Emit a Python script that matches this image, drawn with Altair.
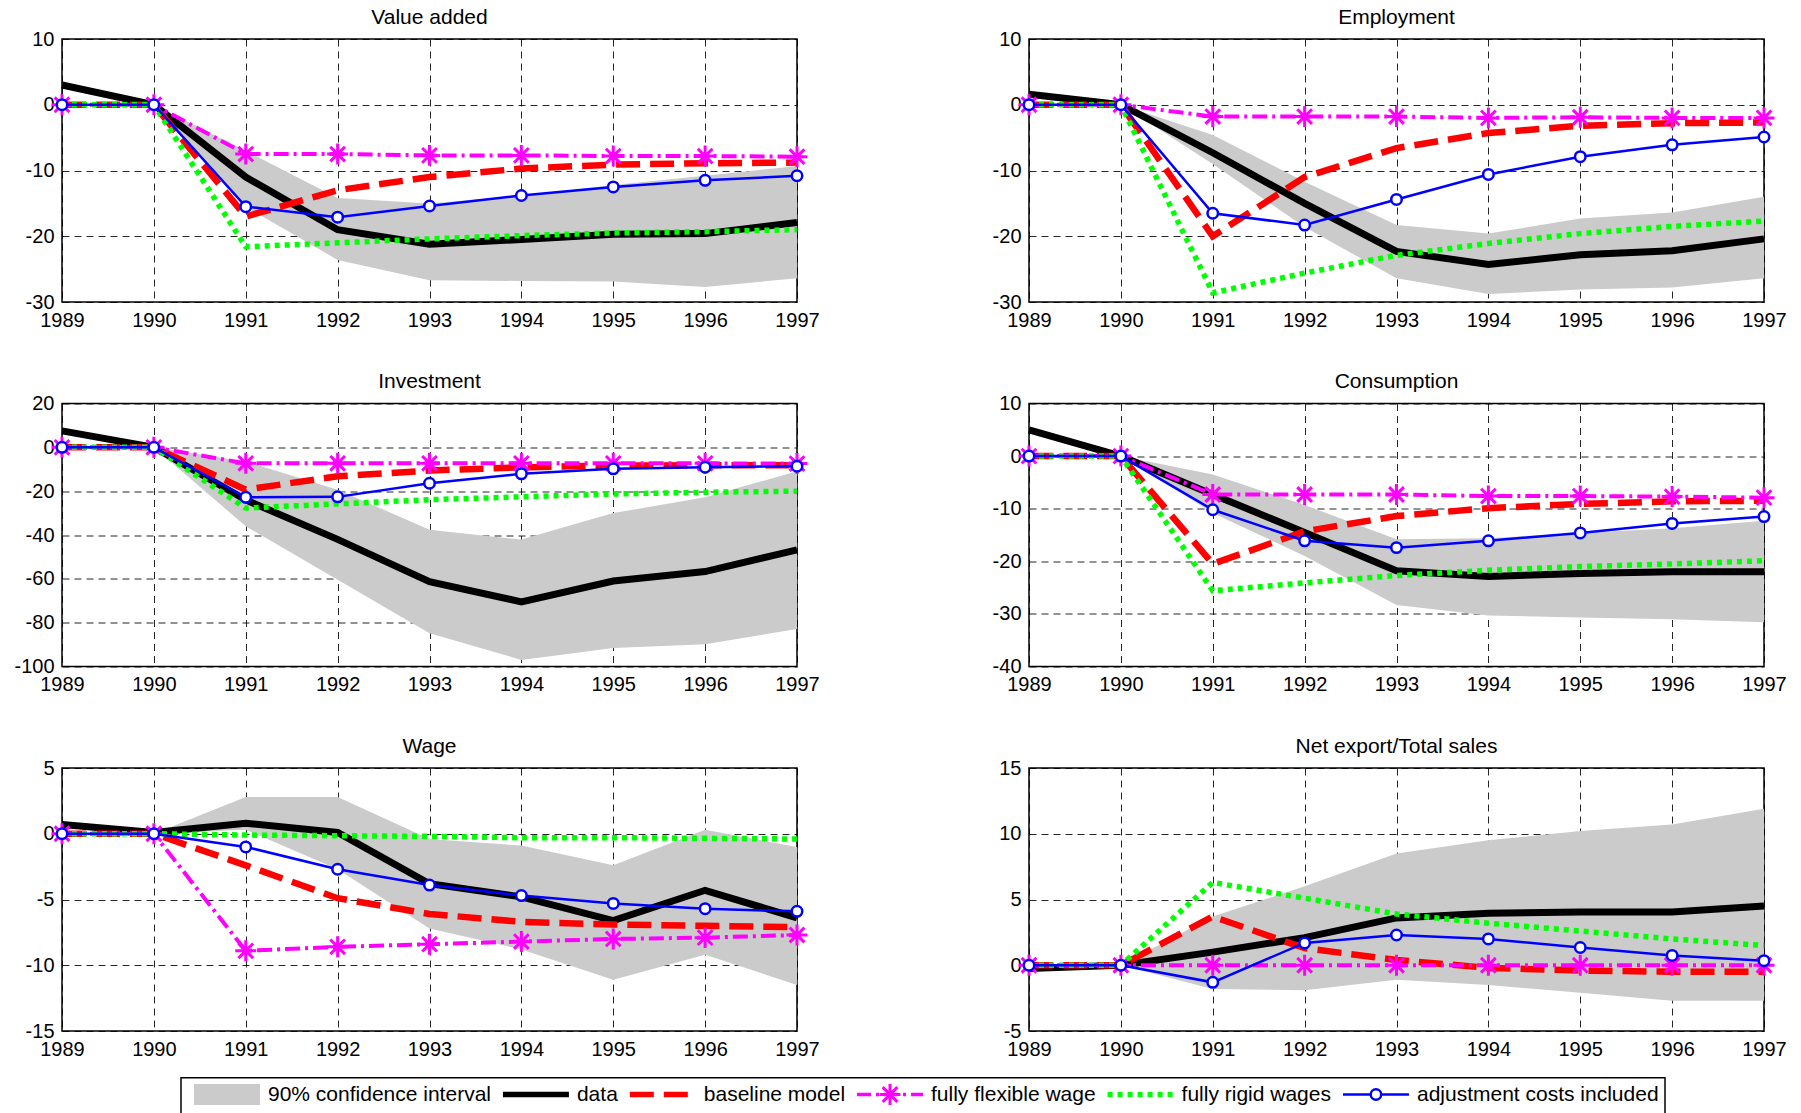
import altair as alt
import pandas as pd

FONT = "Liberation Sans"
GREY = "#cbcbcb"

YEARS = [1989, 1990, 1991, 1992, 1993, 1994, 1995, 1996, 1997]
CI_YEARS = [1990, 1991, 1992, 1993, 1994, 1995, 1996, 1997]

# ---- Value added
VA_TICKS = [-30, -20, -10, 0, 10]
VA_DATA = [3.0, 0.0, -11.0, -19.0, -21.2, -20.5, -19.7, -19.6, -17.9]
VA_BASE = [0, 0, -17.0, -13.0, -11.0, -9.7, -9.1, -8.9, -8.8]
VA_FLEX = [0, 0, -7.5, -7.5, -7.7, -7.7, -7.8, -7.8, -7.9]
VA_RIGID = [0, 0, -21.6, -21.0, -20.4, -19.9, -19.5, -19.3, -19.0]
VA_ADJ = [0, 0, -15.5, -17.1, -15.4, -13.8, -12.5, -11.5, -10.8]
VA_CI_HI = [0, -7.0, -14.2, -15.0, -13.8, -12.2, -10.8, -9.3]
VA_CI_LO = [0, -15.5, -23.6, -26.7, -26.8, -26.9, -27.7, -26.4]

# ---- Employment
EM_TICKS = [-30, -20, -10, 0, 10]
EM_DATA = [1.6, 0.0, -7.3, -15.0, -22.3, -24.3, -22.8, -22.2, -20.4]
EM_BASE = [0, 0, -20.0, -11.0, -6.6, -4.3, -3.2, -2.8, -2.7]
EM_FLEX = [0, 0, -1.8, -1.8, -1.8, -2.0, -1.9, -2.0, -2.0]
EM_RIGID = [0, 0, -28.6, -25.6, -22.9, -21.1, -19.6, -18.5, -17.7]
EM_ADJ = [0, 0, -16.5, -18.3, -14.4, -10.6, -7.9, -6.1, -4.9]
EM_CI_HI = [0, -4.6, -11.7, -18.3, -19.6, -17.3, -16.4, -14.0]
EM_CI_LO = [0, -9.0, -18.6, -26.4, -28.8, -28.1, -27.8, -26.4]

# ---- Investment
IN_TICKS = [-100, -80, -60, -40, -20, 0, 20]
IN_DATA = [7.5, 0.0, -24.0, -42.0, -61.3, -70.5, -61.0, -56.7, -46.8]
IN_BASE = [0, 0, -19.3, -13.2, -10.6, -9.1, -8.3, -8.2, -8.2]
IN_FLEX = [0, 0, -7.3, -7.3, -7.3, -7.3, -7.3, -7.3, -7.4]
IN_RIGID = [0, 0, -27.7, -25.8, -23.9, -22.6, -21.3, -20.5, -20.0]
IN_ADJ = [0, 0, -22.8, -22.6, -16.4, -12.1, -9.8, -9.1, -8.6]
IN_CI_HI = [0, -6.5, -19.3, -37.6, -42.1, -30.0, -22.8, -10.9]
IN_CI_LO = [0, -36.0, -60.4, -84.8, -97.0, -91.6, -89.8, -82.9]

# ---- Consumption
CO_TICKS = [-40, -30, -20, -10, 0, 10]
CO_DATA = [5.0, 0.0, -7.3, -14.5, -21.8, -22.9, -22.3, -22.0, -22.0]
CO_BASE = [0, 0, -20.5, -14.3, -11.4, -9.9, -9.1, -8.6, -8.5]
CO_FLEX = [0, 0, -7.3, -7.3, -7.3, -7.6, -7.6, -7.7, -7.9]
CO_RIGID = [0, 0, -25.6, -24.1, -22.7, -21.7, -21.0, -20.5, -19.9]
CO_ADJ = [0, 0, -10.2, -16.1, -17.4, -16.1, -14.6, -12.8, -11.5]
CO_CI_HI = [0, -3.5, -9.3, -15.8, -15.6, -14.6, -13.7, -12.3]
CO_CI_LO = [0, -10.8, -19.0, -28.3, -30.3, -30.7, -31.0, -31.6]

# ---- Wage
WA_TICKS = [-15, -10, -5, 0, 5]
WA_DATA = [0.7, 0.1, 0.8, 0.1, -3.8, -4.8, -6.6, -4.3, -6.4]
WA_BASE = [0, 0, -2.4, -4.9, -6.1, -6.7, -6.9, -7.0, -7.1]
WA_FLEX = [0, 0, -8.9, -8.6, -8.4, -8.2, -8.0, -7.9, -7.7]
WA_RIGID = [0, 0, -0.1, -0.15, -0.2, -0.3, -0.3, -0.35, -0.4]
WA_ADJ = [0, 0, -1.0, -2.7, -3.9, -4.7, -5.3, -5.7, -5.9]
WA_CI_HI = [0, 2.8, 2.8, -0.4, -0.9, -2.4, 0.3, -1.0]
WA_CI_LO = [0, 0.3, -2.7, -7.2, -8.8, -11.1, -9.2, -11.5]

# ---- Net export / Total sales
NX_TICKS = [-5, 0, 5, 10, 15]
NX_DATA = [-0.25, 0.0, 1.0, 2.1, 3.6, 3.95, 4.05, 4.05, 4.5]
NX_BASE = [0, 0, 3.7, 1.3, 0.4, -0.2, -0.4, -0.5, -0.5]
NX_FLEX = [0, 0, 0, 0, 0, 0, 0, 0, 0]
NX_RIGID = [0, 0, 6.3, 5.1, 3.9, 3.2, 2.6, 2.0, 1.5]
NX_ADJ = [0, 0, -1.3, 1.7, 2.3, 2.0, 1.35, 0.75, 0.35]
NX_CI_HI = [0, 3.7, 6.0, 8.5, 9.5, 10.2, 10.7, 11.9]
NX_CI_LO = [0, -1.8, -1.9, -1.1, -1.5, -2.1, -2.7, -2.7]

LEGEND_LABELS = ["90% confidence interval", "data", "baseline model",
                 "fully flexible wage", "fully rigid wages", "adjustment costs included"]

STAR = "M0,-1L0,1M-1,0L1,0M-0.7,-0.7L0.7,0.7M-0.7,0.7L0.7,-0.7"

STY = {
    "data": dict(color="black", strokeWidth=7),
    "base": dict(color="#ff0000", strokeWidth=6.5, strokeDash=[24, 10]),
    "flex": dict(color="#ff00ff", strokeWidth=4, strokeDash=[15, 5, 3, 5]),
    "rigid": dict(color="#00ff00", strokeWidth=5.5, strokeDash=[5, 5]),
    "adj": dict(color="#0000ff", strokeWidth=2.5),
}
STAR_SIZE, STAR_W = 440, 3
CIRC_SIZE, CIRC_W = 110, 2.5
TICK_FS, TITLE_FS = 20, 21

PW, PH = 735, 263


def panel(title, ticks, data, base, flex, rigid, adj, lo, hi):
    lines = pd.DataFrame({"year": YEARS, "data": data, "base": base,
                          "flex": flex, "rigid": rigid, "adj": adj})
    band = pd.DataFrame({"year": CI_YEARS, "lo": lo, "hi": hi})
    xs = alt.Scale(domain=[YEARS[0], YEARS[-1]], nice=False, zero=False)
    ys = alt.Scale(domain=[ticks[0], ticks[-1]], nice=False, zero=False)
    xax = alt.Axis(values=YEARS, labelExpr="'' + datum.value", labelFlush=False,
                   labelOverlap=False, domain=False, ticks=False, labelPadding=8,
                   grid=True, title=None)
    yax = alt.Axis(values=ticks, labelExpr="'' + datum.value", labelFlush=False,
                   labelOverlap=False, domain=False, ticks=False, labelPadding=8,
                   grid=True, title=None, minExtent=50, maxExtent=50)
    X = alt.X("year:Q", scale=xs, axis=xax)

    def Y(f):
        return alt.Y(f"{f}:Q", scale=ys, axis=yax)

    area = alt.Chart(band).mark_area(color=GREY, opacity=1).encode(
        x=X, y=Y("lo"), y2="hi:Q")
    layers = [area]
    for key in ["data", "base", "flex"]:
        layers.append(alt.Chart(lines).mark_line(**STY[key]).encode(x=X, y=Y(key)))
    layers.append(alt.Chart(lines).mark_point(
        shape=STAR, filled=False, stroke="#ff00ff", strokeWidth=STAR_W, size=STAR_SIZE,
        opacity=1).encode(x=X, y=Y("flex")))
    for key in ["rigid", "adj"]:
        layers.append(alt.Chart(lines).mark_line(**STY[key]).encode(x=X, y=Y(key)))
    layers.append(alt.Chart(lines).mark_point(
        shape="circle", filled=True, fill="white", stroke="#0000ff", strokeWidth=CIRC_W,
        size=CIRC_SIZE, opacity=1).encode(x=X, y=Y("adj")))
    return alt.layer(*layers).properties(width=PW, height=PH, title=title)


panels = [
    panel("Value added", VA_TICKS, VA_DATA, VA_BASE, VA_FLEX, VA_RIGID, VA_ADJ, VA_CI_LO, VA_CI_HI),
    panel("Employment", EM_TICKS, EM_DATA, EM_BASE, EM_FLEX, EM_RIGID, EM_ADJ, EM_CI_LO, EM_CI_HI),
    panel("Investment", IN_TICKS, IN_DATA, IN_BASE, IN_FLEX, IN_RIGID, IN_ADJ, IN_CI_LO, IN_CI_HI),
    panel("Consumption", CO_TICKS, CO_DATA, CO_BASE, CO_FLEX, CO_RIGID, CO_ADJ, CO_CI_LO, CO_CI_HI),
    panel("Wage", WA_TICKS, WA_DATA, WA_BASE, WA_FLEX, WA_RIGID, WA_ADJ, WA_CI_LO, WA_CI_HI),
    panel("Net export/Total sales", NX_TICKS, NX_DATA, NX_BASE, NX_FLEX, NX_RIGID, NX_ADJ, NX_CI_LO, NX_CI_HI),
]

grid = alt.concat(*panels, columns=2, spacing={"row": 38.5, "column": 158})

# ---- legend (laid out from approximate Arial text widths)
ARIAL = {" ": .278, "%": .889, "0": .556, "9": .556, "a": .556, "b": .556, "c": .5,
         "d": .556, "e": .556, "f": .278, "g": .556, "i": .222, "j": .222, "l": .222,
         "m": .833, "n": .556, "o": .556, "r": .333, "s": .5, "t": .278, "u": .556,
         "v": .5, "w": .722, "x": .5, "y": .5}
LEG_FS = 21
LEG_W, LEG_H = 1484, 36
LEG_SHIFT = 119          # box starts this far right of the panels' left edge
SYM_LEN, TEXT_OFF, GAP, FIRST = 66, 74, 12, 13


def text_width(s):
    return sum(ARIAL.get(c, .556) for c in s) * LEG_FS


starts = []
x0 = FIRST
for lab in LEGEND_LABELS:
    starts.append(x0)
    x0 = x0 + TEXT_OFF + text_width(lab) + GAP

mid = LEG_H / 2 - 0.5
leg = pd.DataFrame({
    "label": LEGEND_LABELS,
    "x0": starts,
    "x1": [s + SYM_LEN for s in starts],
    "xm": [s + SYM_LEN / 2 for s in starts],
    "xt": [s + TEXT_OFF for s in starts],
    "y": [mid] * len(starts),
    "yt": [mid - 10.5] * len(starts),
    "yb": [mid + 10.5] * len(starts),
})
box = pd.DataFrame({"x0": [0], "x1": [LEG_W], "y0": [0.75], "y1": [LEG_H + 2]})

LX = alt.Scale(domain=[-LEG_SHIFT, LEG_W + 1], nice=False, zero=False)
LY = alt.Scale(domain=[0, LEG_H], nice=False, zero=False, reverse=True)


def lx(f):
    return alt.X(f"{f}:Q", scale=LX, axis=None)


def ly(f):
    return alt.Y(f"{f}:Q", scale=LY, axis=None)


def row(i):
    return leg.iloc[[i]]


leg_layers = [
    alt.Chart(box).mark_rect(fillOpacity=0, stroke="black", strokeWidth=1.5, clip=True).encode(
        x=lx("x0"), x2="x1:Q", y=ly("y0"), y2="y1:Q"),
    alt.Chart(row(0)).mark_rect(color=GREY).encode(x=lx("x0"), x2="x1:Q", y=ly("yt"), y2="yb:Q"),
    alt.Chart(row(1)).mark_rule(color="black", strokeWidth=5.5).encode(x=lx("x0"), x2="x1:Q", y=ly("y")),
    alt.Chart(row(2)).mark_rule(color="#ff0000", strokeWidth=5.5, strokeDash=[24, 10]).encode(x=lx("x0"), x2="x1:Q", y=ly("y")),
    alt.Chart(row(3)).mark_rule(color="#ff00ff", strokeWidth=3.5, strokeDash=[14, 5, 3, 5]).encode(x=lx("x0"), x2="x1:Q", y=ly("y")),
    alt.Chart(row(3)).mark_point(shape=STAR, filled=False, stroke="#ff00ff", strokeWidth=STAR_W, size=STAR_SIZE, opacity=1).encode(x=lx("xm"), y=ly("y")),
    alt.Chart(row(4)).mark_rule(color="#00ff00", strokeWidth=5, strokeDash=[5, 5]).encode(x=lx("x0"), x2="x1:Q", y=ly("y")),
    alt.Chart(row(5)).mark_rule(color="#0000ff", strokeWidth=2.5).encode(x=lx("x0"), x2="x1:Q", y=ly("y")),
    alt.Chart(row(5)).mark_point(shape="circle", filled=True, fill="white", stroke="#0000ff", strokeWidth=CIRC_W, size=CIRC_SIZE, opacity=1).encode(x=lx("xm"), y=ly("y")),
    alt.Chart(leg).mark_text(align="left", baseline="middle", fontSize=LEG_FS, font=FONT, color="black").encode(
        x=lx("xt"), y=ly("y"), text="label:N"),
]
legend = alt.layer(*leg_layers).properties(
    width=LEG_W + LEG_SHIFT + 1, height=LEG_H,
    view=alt.ViewBackground(stroke="transparent"))

chart = alt.vconcat(grid, legend, spacing=16).properties(
    padding={"left": 11, "top": 5, "right": 0, "bottom": 0}
).configure_view(stroke="black", strokeWidth=1.5).configure_title(
    font=FONT, fontSize=TITLE_FS, fontWeight="normal", color="black", offset=1.5,
    baseline="alphabetic", anchor="middle"
).configure_axis(
    labelFont=FONT, labelFontSize=TICK_FS, labelColor="black",
    gridColor="#000000", gridOpacity=0.85, gridDash=[7, 5], gridWidth=1
)

chart.save("out.html", embed_options={"renderer": "svg", "actions": False})
